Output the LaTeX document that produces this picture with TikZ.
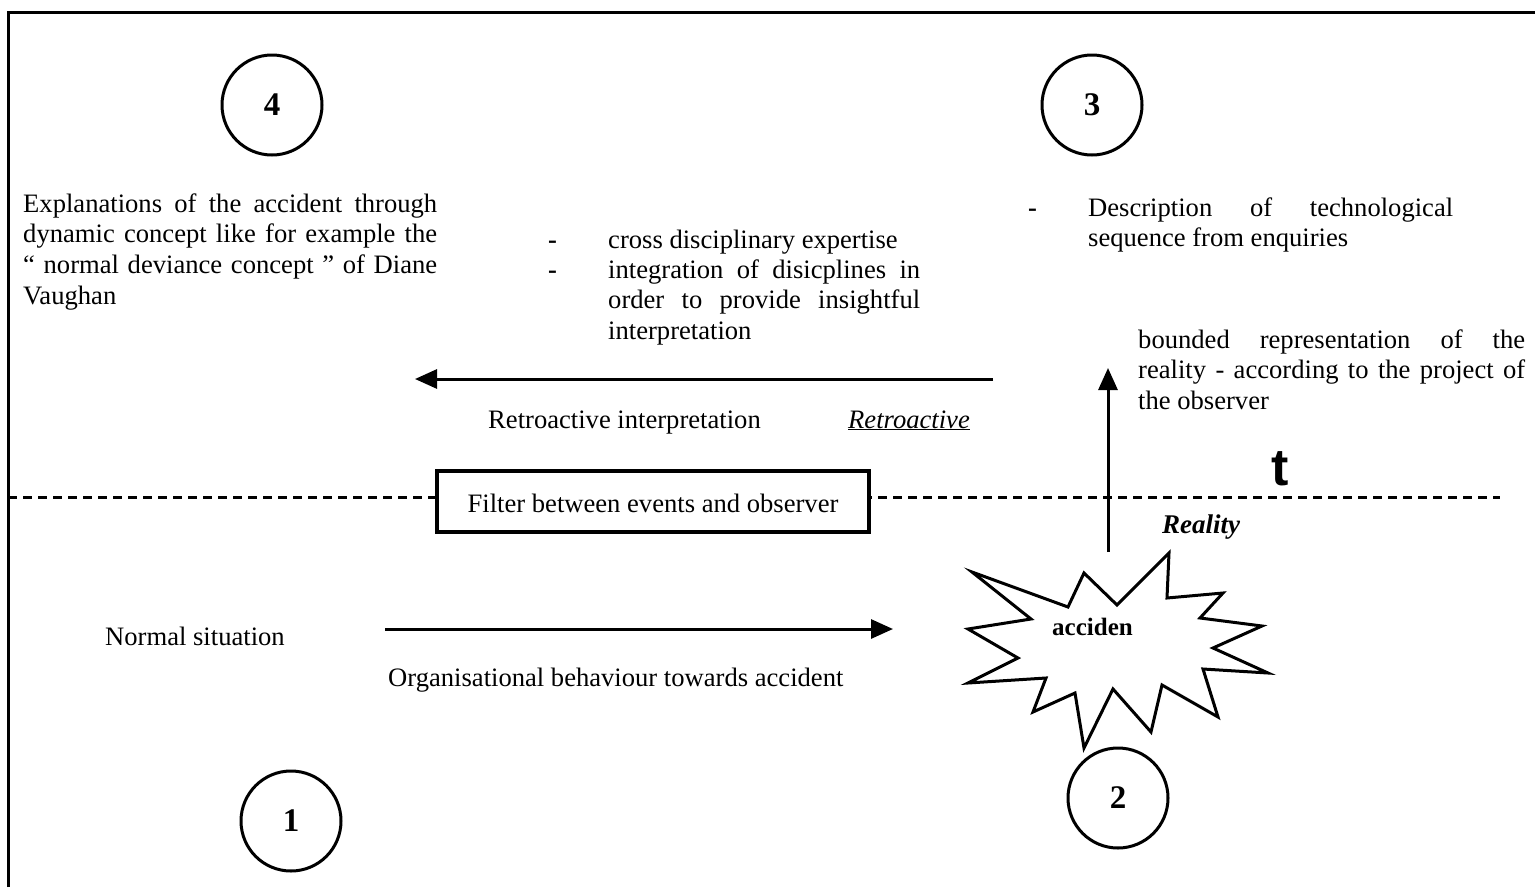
\documentclass[tikz,border=0pt]{standalone}
\usepackage{fontspec}
\setmainfont{Liberation Serif}
\newfontfamily\tsans{Liberation Sans}
\usetikzlibrary{arrows.meta}
\begin{document}
\begin{tikzpicture}[x=1pt,y=-1pt,
  body/.style={inner sep=0pt, anchor=base west, font=\fontsize{26.6}{30.7}\selectfont},
  bul/.style={body, font=\fontsize{26.6}{30.7}\selectfont\bfseries},
  num/.style={circle, draw, line width=3pt, minimum size=100pt, inner sep=0pt, font=\fontsize{33}{33}\selectfont\bfseries},
  conn/.style={line width=3pt, -{Triangle[length=22pt,width=19pt]}},
  dashline/.style={line width=3pt, dash pattern=on 9pt off 6pt},
  filterbox/.style={draw, fill=white, line width=3.5pt, minimum width=432pt, minimum height=61pt, inner sep=0pt, text height=24pt, text depth=3pt, font=\fontsize{26.6}{30.7}\selectfont}
]
\useasboundingbox (0,0) rectangle (1535,887);
% frame
\draw[line width=3pt] (8,887) -- (8,12) -- (1535,12);

% circles
\node[num] (c4) at (272,105) {4};
\node[num] (c3) at (1092,105) {3};
\node[num] (c1) at (291,821) {1};
\node[num] (c2) at (1118,798) {2};

% block 4
\node[body] (t4) at (23,212) {\parbox[t]{414pt}{Explanations of the accident through\linebreak dynamic concept like for example the\linebreak “ normal deviance concept ” of Diane\linebreak Vaughan}};

% middle bullets
\node[bul] (b1) at (548,248) {-};
\node[bul] (b2) at (548,278) {-};
\node[body] (m1) at (608,248) {cross disciplinary expertise};
\node[body] (m2) at (608,278) {\parbox[t]{312pt}{integration of disicplines in\linebreak order to provide insightful\linebreak interpretation}};

% right bullet
\node[bul] (b3) at (1028,216) {-};
\node[body] (t3) at (1088,216) {\parbox[t]{365pt}{Description of technological\linebreak sequence from enquiries}};

% bounded representation
\node[body] (rep) at (1138,348) {\parbox[t]{387pt}{bounded representation of the\linebreak reality - according to the project of\linebreak the observer}};

% retroactive arrow
\coordinate (rs) at (993,379);
\coordinate (re) at (415,379);
\draw[conn] (rs) -- (re);
\node[body] (ri) at (488,428) {Retroactive interpretation};
\node[body] (ra) at (848,428) {\itshape\underline{Retroactive}};

% time axis
\draw[dashline] (8,497) coordinate (d0) -- (1500,497) coordinate (d1);
\node[inner sep=0pt, anchor=base, font=\tsans\fontsize{52}{52}\selectfont\bfseries] (tt) at (1280,485) {t};
\node[filterbox] (filter) at (653,501.5) {Filter between events and observer};

% reality arrow
\coordinate (vs) at (1108,552);
\coordinate (ve) at (1108,368);
\draw[conn] (vs) -- (ve);
\node[body, font=\fontsize{27}{30}\selectfont\bfseries\itshape] (real) at (1162,533) {Reality};

% accident star
\draw[line width=3pt, line join=miter, fill=white]
 (972,572) -- (1068,607) -- (1084,573) -- (1117,605) -- (1169,553) -- (1167,598)
 -- (1223,593) -- (1200,618) -- (1262,626) -- (1213,648) -- (1268,673) -- (1203,669)
 -- (1218,717) -- (1162,685) -- (1151,732) -- (1113,689) -- (1084,748) -- (1075,693)
 -- (1033,712) -- (1046,678) -- (968,683) -- (1018,658) -- (968,629) -- (1031,619) -- cycle;
\node[body, font=\fontsize{25}{28}\selectfont\bfseries] (acc) at (1052,635) {acciden};

% normal arrow
\coordinate (ns) at (385,629);
\coordinate (ne) at (893,629);
\draw[conn] (ns) -- (ne);
\node[body] (norm) at (105,645) {Normal situation};
\node[body] (org) at (388,686) {Organisational behaviour towards accident};
\end{tikzpicture}
\end{document}
